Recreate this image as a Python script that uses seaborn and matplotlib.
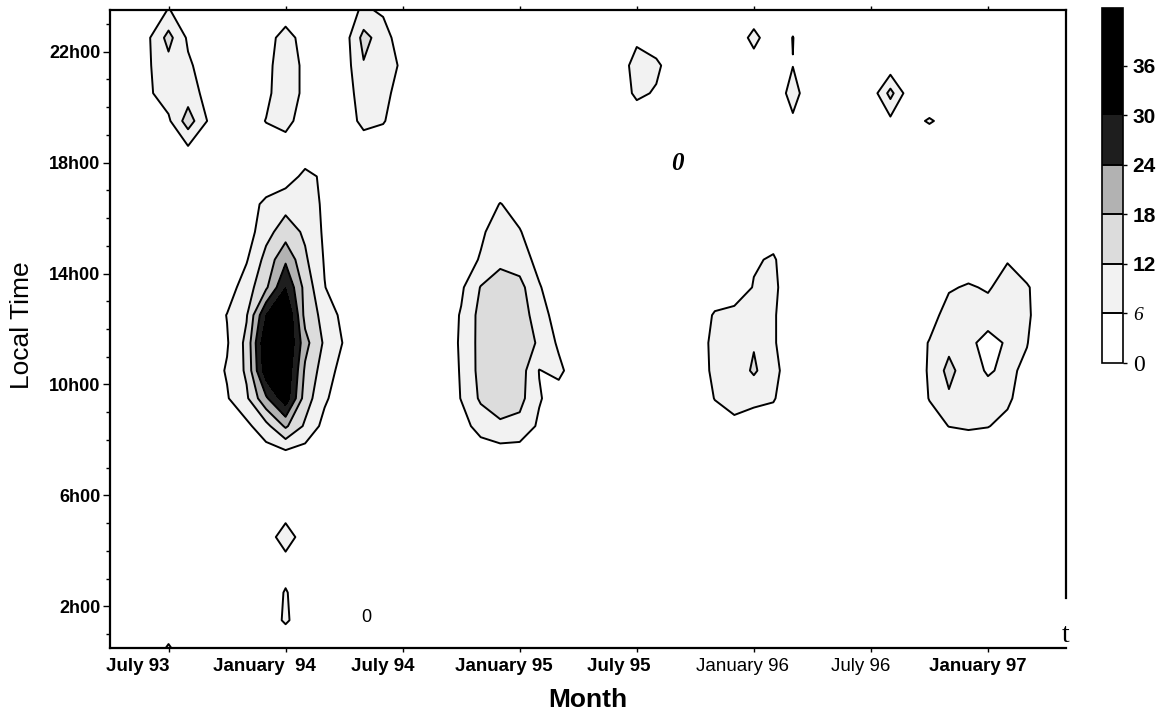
import numpy as np
import matplotlib
matplotlib.use("Agg")
import matplotlib.pyplot as plt
import seaborn as sns

sns.set_theme(style="white")
plt.rcParams['font.family'] = ['Liberation Sans', 'DejaVu Sans']
plt.rcParams.update({'text.color': 'black', 'axes.labelcolor': 'black',
                     'xtick.color': 'black', 'ytick.color': 'black'})

# grid: months counted from July 1993, local-time hour bins
months = np.arange(-3, 47)
hours = np.arange(0.5, 24.0, 1.0)

# occurrence counts per (month, hour) cell; each block lists rows from the
# latest hour downwards, starting at (first month, top hour)
jul93_evening = (-1, 23.5, [
    [2, 6.3, 3, 1],
    [5.5, 14, 5, 2],
    [5.5, 10, 7, 3],
    [5.2, 9, 9, 4],
    [3, 5, 15, 5.8],
    [1, 3, 5, 2],
])
jul93_night = (-1, 1.5, [
    [1, 3, 1],
    [3, 6.5, 3],
])
jan94_evening = (4, 23.5, [
    [1, 2, 3, 2],
    [2, 4, 8, 4],
    [2, 4, 10, 4.4],
    [2, 4.5, 10, 4.4],
    [3, 6.2, 8, 3],
    [1, 3, 3, 2],
])
jan94_day = (2, 17.5, [
    [0, 1, 2, 3, 3, 7.5, 5, 2, 0],
    [0, 2, 4, 7, 10, 9, 5, 2, 0],
    [1, 3, 3, 10, 15, 11, 5, 2, 0],
    [1, 2, 5.5, 14, 23, 13, 5.5, 2, 0],
    [1, 3, 9, 17, 30, 16, 6.2, 2, 0],
    [2, 6.2, 11.5, 30, 38, 16, 10, 4, 1],
    [2, 5.5, 13.5, 36, 38, 20, 11, 5.5, 1],
    [3, 6.5, 13, 34, 36, 17, 9, 3.5, 1],
    [2, 5.5, 11, 23, 34, 15, 7, 2, 0],
    [1, 2, 4.5, 10, 19, 11, 4, 1, 0],
    [0, 1, 2, 3, 4, 3, 2, 0, 0],
])
jan94_night = (5, 5.5, [
    [1, 3, 1],
    [3, 9, 3],
    [1, 3.3, 1],
    [2, 6.5, 2],
    [2, 7, 2],
])
jul94_evening = (9, 23.5, [
    [3, 7, 5, 2],
    [3, 14, 9, 2],
    [3, 11.5, 10, 4.6],
    [3, 9, 8, 3],
    [2, 8, 6.5, 2],
    [1, 2, 2, 1],
])
jan95_day = (14, 17.5, [
    [0, 0, 1, 2, 1, 0, 0, 0],
    [0, 1, 3, 6.2, 4, 1, 0, 0],
    [1, 2, 5, 9, 6.3, 3, 1, 0],
    [2, 3, 6.5, 11, 9, 4, 1, 0],
    [2, 5, 12.3, 14, 14, 6.5, 2, 0],
    [2, 6.5, 14, 16, 15, 9, 3, 1],
    [2, 6.8, 14, 16, 16, 11, 5, 1],
    [2, 6.5, 14, 16, 15, 5.8, 7.5, 2],
    [2, 6.2, 13, 15, 14, 6.5, 3, 1],
    [1, 4, 8, 11, 10, 5, 2, 0],
    [0, 2, 3, 3, 3, 2, 0, 0],
])
jul95_evening = (23, 23.5, [
    [0, 2, 1, 0],
    [1, 5, 3, 1],
    [3, 8, 7, 3],
    [3, 7, 5.5, 1],
    [1, 3, 2, 0],
])
jan96_evening = (29, 23.5, [
    [0, 2, 0, 3, 0],
    [2, 7.8, 2, 6.15, 1],
    [0, 3.2, 1, 5.9, 1],
    [0, 1, 2.4, 8, 2.4],
    [0, 0, 1, 5.2, 1],
    [0, 0, 0, 2, 0],
])
jan96_day = (27, 15.5, [
    [0, 1, 1, 2, 4, 1],
    [1, 2, 3, 5.5, 6.5, 3],
    [2, 3, 3, 6.3, 7, 3],
    [3, 6.5, 7.5, 8, 6.5, 3],
    [3, 7.5, 8, 11.5, 6.5, 3],
    [3.5, 7, 8, 13, 7.5, 3],
    [2, 6.2, 7.5, 7, 6.5, 2],
    [1, 3, 5, 4, 3, 1],
    [0, 1, 1, 1, 1, 0],
])
jul96_evening = (36, 22.5, [
    [0, 1, 0, 0, 0],
    [1, 2, 1, 1, 0],
    [2, 14, 2, 1, 0],
    [1, 4.5, 4, 6.6, 4],
    [0, 1, 0, 1, 0],
])
jan97_day = (38, 15.5, [
    [0, 0, 1, 1, 1, 2, 1, 0],
    [0, 1, 3, 3, 3, 5.7, 3, 1],
    [1, 3, 5.5, 6.5, 5.5, 8, 6.5, 3],
    [2, 4, 8, 8, 8, 8, 7, 2],
    [3, 6.3, 10, 7, 4.5, 6.5, 6.2, 2],
    [3, 6.5, 14, 8, 5.5, 7, 5, 2],
    [2.5, 6.2, 11, 9, 8, 7, 3, 1],
    [1, 4, 6.1, 6.5, 6.2, 4.5, 2, 0],
    [0, 1, 2, 3, 2, 1, 0, 0],
])

blocks = [jul93_evening, jul93_night, jan94_evening, jan94_day, jan94_night,
          jul94_evening, jan95_day, jul95_evening, jan96_evening, jan96_day,
          jul96_evening, jan97_day]

counts = np.zeros((len(hours), len(months)))
for first_month, top_hour, rows in blocks:
    c0 = int(np.where(months == first_month)[0][0])
    for i, row in enumerate(rows):
        r = int(np.where(hours == top_hour - i)[0][0])
        counts[r, c0:c0 + len(row)] = row

levels = [0, 6, 12, 18, 24, 30, 43]
shades = ['#ffffff', '#f2f2f2', '#dcdcdc', '#b2b2b2', '#1e1e1e', '#000000']
line_levels = [6, 12, 18, 24]

tick_months = [0, 6, 12, 18, 24, 30, 36, 42]
label_months = [-1.6, 4.9, 11.0, 17.2, 23.1, 29.4, 35.5, 41.5]
month_labels = ['July 93', 'January  94', 'July 94', 'January 95',
                'July 95', 'January 96', 'July 96', 'January 97']
label_weights = ['bold', 'bold', 'bold', 'bold', 'bold', 'normal', 'normal', 'bold']
hour_ticks = [2, 6, 10, 14, 18, 22]
hour_labels = ['2h00', '6h00', '10h00', '14h00', '18h00', '22h00']
bar_ticks = [0, 6, 12, 18, 24, 30, 36]

W, H = 1157, 720
fig = plt.figure(figsize=(W / 100, H / 100), dpi=100)
ax = fig.add_axes([110 / W, 1 - 648 / H, 956 / W, 638 / H])

filled = ax.contourf(months, hours, counts, levels=levels, colors=shades)
lines = ax.contour(months, hours, counts, levels=line_levels,
                   colors='black', linewidths=1.4)

ax.set_xlim(-3, 46)
ax.set_ylim(0.5, 23.5)

# x axis: tick marks on the half-years, labels set slightly left of them
ax.set_xticks(tick_months, minor=True)
ax.set_xticks(label_months, month_labels)
for lab, w in zip(ax.get_xticklabels(), label_weights):
    lab.set_fontweight(w)
    lab.set_fontsize(13.5)
ax.tick_params(axis='x', which='major', length=0, pad=7)
ax.tick_params(axis='x', which='minor', length=3, width=1, direction='out',
               bottom=True, top=True)

# y axis: hourly marks, labels every four hours
ax.set_yticks(hour_ticks, hour_labels)
ax.set_yticks(np.arange(1, 24), minor=True)
for lab in ax.get_yticklabels():
    lab.set_fontweight('bold')
    lab.set_fontsize(13)
ax.tick_params(axis='y', which='both', direction='out', left=True,
               right=False, width=1)
ax.tick_params(axis='y', which='major', length=5, pad=2)
ax.tick_params(axis='y', which='minor', length=3)

for name, sp in ax.spines.items():
    sp.set_visible(True)
    sp.set_color('black')
    sp.set_linewidth(1.6)
ax.spines['right'].set_bounds(2.3, 23.5)

ax.text(10.15, 1.6, '0', fontsize=13, ha='center', va='center')
ax.text(26.1, 17.95, '0', fontsize=18, ha='center', va='center',
        family=['Liberation Serif', 'DejaVu Serif'], style='italic', weight='bold')
ax.text(46.0, 0.5, 't', fontsize=20, ha='center', va='bottom',
        family=['Liberation Serif', 'DejaVu Serif'])

fig.text(22 / W, 1 - 325 / H, 'Local Time', rotation=90, fontsize=19,
         ha='center', va='center')
fig.text(588 / W, 1 - 700 / H, 'Month', fontsize=19, weight='bold',
         ha='center', va='center',
         family=['Liberation Sans Narrow', 'Liberation Sans', 'DejaVu Sans'])

# colour scale
cax = fig.add_axes([1102 / W, 1 - 363 / H, 21 / W, 355 / H])
cb = fig.colorbar(filled, cax=cax, spacing='proportional', ticks=bar_ticks)
cb.add_lines(lines)
cb.outline.set_edgecolor('black')
cb.outline.set_linewidth(1.2)
cax.tick_params(length=3, width=1, direction='out', pad=4)
cb.set_ticklabels([str(t) for t in bar_ticks])
for t, lab in zip(bar_ticks, cax.get_yticklabels()):
    if t == 0:
        lab.set_family(['Liberation Serif', 'DejaVu Serif'])
        lab.set_fontsize(17)
    elif t == 6:
        lab.set_family(['Liberation Serif', 'DejaVu Serif'])
        lab.set_style('italic')
        lab.set_fontsize(14)
    else:
        lab.set_fontweight('bold')
        lab.set_fontsize(15)

fig.savefig('out.png', dpi=100, facecolor='white')
